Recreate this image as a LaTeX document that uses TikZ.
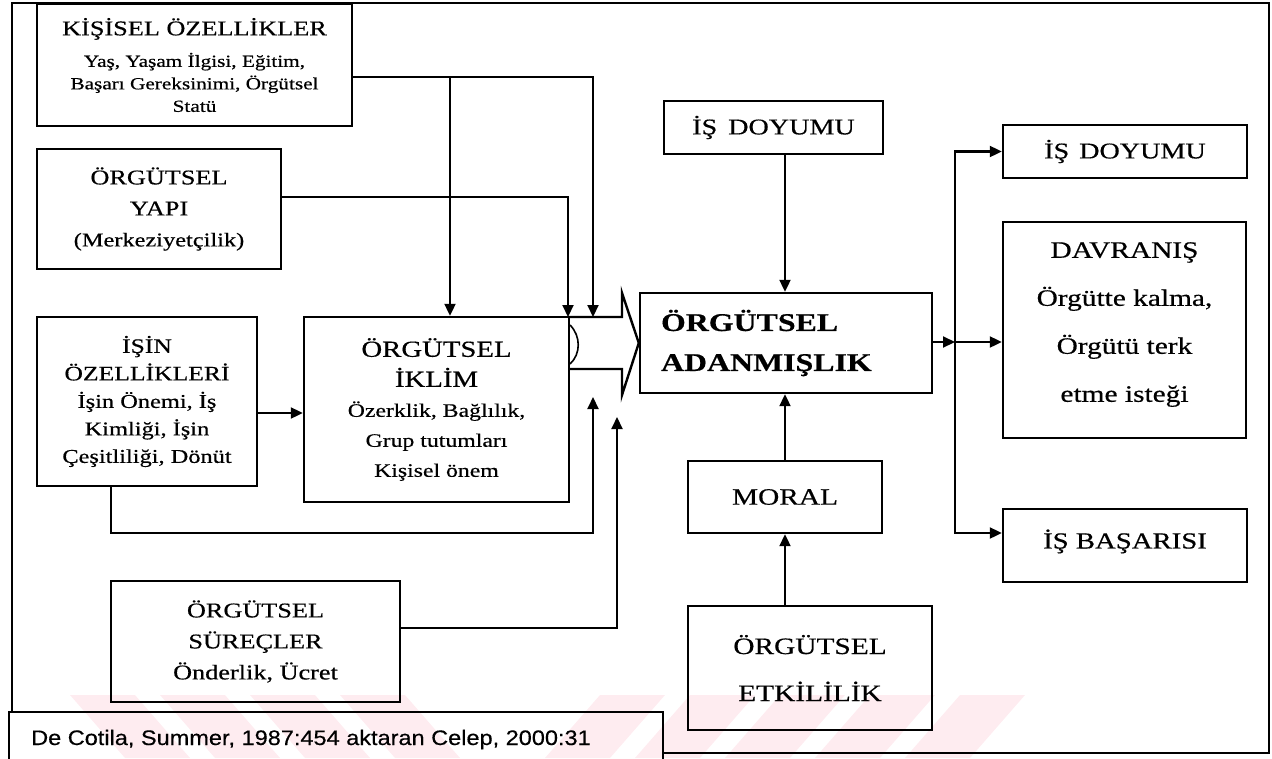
\documentclass[tikz,border=0pt]{standalone}
\usepackage{fontspec}
\setmainfont{Liberation Serif}[FakeStretch=1.25,FakeBold=0.5]
\newfontfamily\capfont{Liberation Sans}[FakeStretch=1.12,FakeBold=0.4]
\usetikzlibrary{arrows.meta}
\newcommand\setfs[2]{\fontsize{#1}{#2}\selectfont}
\newcommand\lowerby[1]{\rule[-#1]{0pt}{0pt}}
\definecolor{wmpink}{RGB}{254,236,240}

\begin{document}
\begin{tikzpicture}[x=1pt,y=-1pt,
  box/.style={draw,line width=2.4pt,inner sep=0pt,align=center},
  conn/.style={line width=2.1pt},
  arr/.style={conn,-{Triangle[length=12pt,width=11pt]}}]
\useasboundingbox (0,0) rectangle (1272,758);

% faint watermark band along the bottom
\begin{scope}
  \clip (12,695) rectangle (1269,758);
  \foreach \a in {70,160,250,340}
    \fill[wmpink] (\a,695) -- (\a+65,695) -- (\a+120,758) -- (\a+55,758) -- cycle;
  \foreach \a in {600,690,780,870,960}
    \fill[wmpink] (\a,695) -- (\a+65,695) -- (\a+10,758) -- (\a-55,758) -- cycle;
\end{scope}

% outer frame and source box
\draw[line width=2.2pt] (12,712) -- (12,3) -- (1269,3) -- (1269,753) -- (663,753);
\draw[line width=2.2pt] (9,765) -- (9,712) -- (663,712) -- (663,765);
\node[anchor=base west,inner sep=0pt,font=\capfont\setfs{21}{25}] (src) at (31,745)
  {De Cotila, Summer, 1987:454 aktaran Celep, 2000:31};

% left column
\node[box,minimum width=315pt,minimum height=122pt,font=\setfs{17}{22.5}] (kis) at (194.5,65)
  {{\setfs{21}{24}KİŞİSEL ÖZELLİKLER}\\[9pt]Yaş, Yaşam İlgisi, Eğitim,\\Başarı Gereksinimi, Örgütsel\\Statü};
\node[box,minimum width=244pt,minimum height=120pt,font=\setfs{19.5}{31}] (yapi) at (159,209)
  {{\setfs{21}{31}ÖRGÜTSEL}\\{\setfs{21}{31}YAPI}\\(Merkeziyetçilik)};
\node[box,minimum width=220pt,minimum height=169pt,font=\setfs{19.5}{27.5}] (isin) at (147,401.5)
  {{\setfs{20.5}{27.5}İŞİN}\\{\setfs{20.5}{27.5}ÖZELLİKLERİ}\\İşin Önemi, İş\\Kimliği, İşin\\Çeşitliliği, Dönüt};
\node[box,minimum width=265pt,minimum height=185pt,font=\setfs{19}{30}] (iklim) at (436.5,409.5)
  {{\setfs{23}{30}ÖRGÜTSEL}\\{\setfs{23}{30}İKLİM}\\Özerklik, Bağlılık,\\Grup tutumları\\Kişisel önem};
\node[box,minimum width=289pt,minimum height=121pt,font=\setfs{21}{31}] (surec) at (255.5,641.5)
  {ÖRGÜTSEL\\SÜREÇLER\\Önderlik, Ücret};

% centre column
\node[box,minimum width=219pt,minimum height=53pt,font=\setfs{22.5}{28}] (isdoy1) at (773.5,127.5)
  {İŞ\hspace{11pt}DOYUMU};
\node[box,minimum height=100pt,text width=250pt,inner xsep=21pt,align=left,
  font=\bfseries\setfs{25.5}{40}] (adan) at (786,343)
  {ÖRGÜTSEL\\ADANMIŞLIK};
\node[box,minimum width=194pt,minimum height=72pt,font=\setfs{23.5}{28}] (moral) at (785,497) {MORAL};
\node[box,minimum width=244pt,minimum height=124pt,font=\setfs{23.5}{47}] (etki) at (810,668)
  {ÖRGÜTSEL\\ETKİLİLİK};

% right column
\node[box,minimum width=244pt,minimum height=53pt,font=\setfs{22.5}{28}] (isdoy2) at (1125,151.5)
  {İŞ\hspace{10pt}DOYUMU};
\node[box,minimum width=243pt,minimum height=216pt,font=\setfs{23.5}{48}] (davr) at (1124.5,330)
  {DAVRANIŞ\\Örgütte kalma,\\Örgütü terk\\etme isteği\lowerby{16pt}};
\node[box,minimum width=244pt,minimum height=73pt,font=\setfs{23}{28}] (basari) at (1125,545.5)
  {İŞ BAŞARISI\lowerby{13pt}};

% broad arrow from the climate box into commitment
\coordinate (shT) at (568,317);
\coordinate (shB) at (568,369);
\draw[line width=2.4pt,line join=miter] (shT) -- (622,317) -- (622,293) -- (adan.west)
  -- (622,395) -- (622,369) -- (shB);
\draw[line width=1.6pt] (570,325) .. controls (581,336) and (581,354) .. (570,364);

% turning points of the connectors
\coordinate (kturn) at (593,77);
\coordinate (kbranch) at (450,77);
\coordinate (yturn) at (568,197);
\coordinate (iirow) at (0,413);
\coordinate (iturn) at (111,533);
\coordinate (iend) at (593,397);
\coordinate (sturn) at (617,628);
\coordinate (send) at (617,417);
\coordinate (cx) at (785,0);
\coordinate (fork) at (955,342);
\coordinate (forkbot) at (955,533);

% inputs
\draw[arr] (kis.east |- kturn) -| (kturn |- shT);
\draw[arr] (kbranch) -- (kbranch |- iklim.north);
\draw[arr] (yapi.east |- yturn) -| (yturn |- shT);
\draw[arr] (isin.east |- iirow) -- (iklim.west |- iirow);
\draw[arr] (isin.south -| iturn) -- (iturn) -| (iend);
\draw[arr] (surec.east |- sturn) -| (send);
\draw[arr] (isdoy1.south -| cx) -- (adan.north -| cx);
\draw[arr] (moral.north) -- (adan.south -| moral.north);
\draw[arr] (etki.north -| moral.south) -- (moral.south);

% outcomes
\draw[arr] (adan.east |- fork) -- (fork);
\draw[arr] (fork) -- (davr.west |- fork);
\draw[arr] (fork) |- (isdoy2.west);
\draw[arr] (fork) -- (forkbot) -- (basari.west |- forkbot);
\end{tikzpicture}
\end{document}
